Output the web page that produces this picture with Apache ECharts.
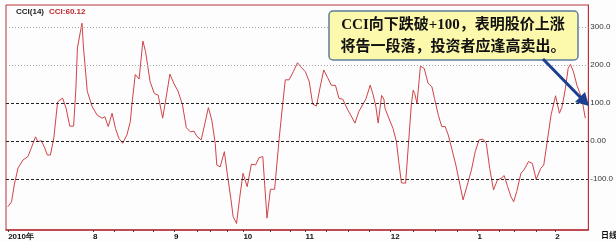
<!DOCTYPE html>
<html><head><meta charset="utf-8">
<script src="https://cdn.jsdelivr.net/npm/echarts@6/dist/echarts.min.js"></script>
<style>html,body{margin:0;padding:0;background:#fff}#c{width:616px;height:242px}</style>
</head><body><div id="c"></div>
<script>
// trading-day index (x) and CCI(14) value
const days = [0.2,1.2,1.9,2.9,4.2,5.5,6.4,7.5,8.1,9.0,9.9,10.6,11.4,12.3,13.3,14.6,15.5,16.5,17.5,18.1,18.5,19.7,20.1,21.1,22.4,23.7,24.2,25.0,25.7,26.6,27.6,28.5,29.4,30.4,31.5,32.4,32.8,33.7,34.7,35.7,36.4,37.6,38.7,39.7,40.9,41.9,42.8,43.9,44.9,46.1,47.1,48.2,49.1,49.9,51.0,51.9,52.9,53.8,54.7,55.1,56.0,57.1,57.9,58.8,59.4,60.3,61.1,62.0,63.1,64.2,65.3,66.2,67.2,67.7,68.3,69.2,70.3,71.5,72.4,73.1,74.1,75.2,76.3,77.4,78.4,79.4,80.3,81.3,82.2,83.2,84.2,85.2,86.3,87.2,88.2,89.5,90.4,91.4,92.4,93.4,94.3,95.4,96.2,96.9,97.5,98.4,99.0,99.3,100.3,101.4,102.3,102.9,103.6,104.7,105.5,106.2,106.7,107.1,107.7,108.6,109.6,110.6,111.6,112.3,113.3,114.2,115.1,115.9,116.8,117.9,119.0,119.8,120.9,122.0,123.0,124.0,125.0,125.9,126.8,127.8,128.8,129.8,130.6,131.5,132.4,133.1,133.9,135.0,135.8,137.0,138.0,139.0,140.2,141.0,141.9,142.9,144.1,145.1,145.8,146.7,147.4,148.0,148.8,149.7,150.4,151.0,151.9];
const cci = [-173,-160,-116,-71,-50,-41,-18,11,-2,1,-18,-37,-37,8,103,113,87,39,39,139,245,310,245,130,90,68,68,60,64,38,73,33,7,-6,16,51,95,175,163,263,235,156,125,121,60,121,176,150,132,95,35,24,26,12,3,42,88,55,-6,-63,-68,-28,-89,-151,-199,-217,-151,-85,-120,-61,-63,-44,-41,-116,-203,-127,-127,7,95,161,161,182,206,193,182,156,97,92,139,187,167,147,146,112,110,82,66,47,77,95,111,147,121,90,47,120,110,86,60,33,-2,-54,-110,-111,-2,95,134,125,99,197,191,152,143,112,68,38,38,16,-19,-63,-116,-155,-116,-76,-28,3,5,-6,-72,-129,-103,-98,-91,-120,-147,-160,-133,-85,-76,-54,-59,-101,-72,-63,-2,68,119,73,90,139,191,202,182,147,128,112,60.12];
const monthTicks = [0.3,22.6,43.9,62.1,78.4,100.8,123.6,144.0];
const monthLabels = ['2010年','8','9','10','11','12','1','2'];
const minorTicks = [28.1,33.2,38.4,50.1,53.5,57.9,69.1,74.3,83.9,89.6,95.1,106.8,112.5,118.2,129.4,133.2,138.9];
const yTicks = [300,200,100,0,-100];
const yLabels = ['300.0','200.0','100.0','0.00','-100.0'];
const strongLevels = [100,0,-100];
const weakLevels = [300,200];
const titleName = 'CCI(14)';
const titleValue = 'CCI:60.12';
const noteLines = ['CCI向下跌破+100，表明股价上涨','将告一段落，投资者应逢高卖出。'];

const chart = echarts.init(document.getElementById('c'), null, {renderer:'canvas'});
const labelMap = {}; monthTicks.forEach((t,i)=>labelMap[t]=monthLabels[i]);
const yMap = {}; yTicks.forEach((t,i)=>yMap[t]=yLabels[i]);
const red = '#b8323a';
chart.setOption({
  backgroundColor:'#fdfdfd',
  animation:false,
  grid:{left:6,right:21,top:5,bottom:12,show:true,borderColor:red,borderWidth:1,backgroundColor:'transparent'},
  xAxis:{type:'value',min:-0.26,max:152.7,
    axisLine:{show:true,onZero:false,lineStyle:{color:red,width:1.5}},
    axisTick:{show:true,inside:false,length:2,lineStyle:{color:'#444'},customValues:monthTicks.concat(minorTicks)},
    axisLabel:{show:true,customValues:monthTicks,formatter:v=>labelMap[v]||'',align:'left',margin:3,
      fontSize:8,fontWeight:'bold',color:'#111',fontFamily:'Liberation Sans, Arial'},
    splitLine:{show:false}},
  yAxis:{type:'value',position:'right',min:-234.2,max:357.9,
    axisLine:{show:true,onZero:false,lineStyle:{color:red}},
    axisTick:{show:false},
    axisLabel:{show:true,customValues:yTicks,formatter:v=>yMap[v]||'',align:'left',margin:2,
      fontSize:8,color:'#333',fontFamily:'Liberation Sans Narrow, Liberation Sans, Arial'},
    splitLine:{show:false}},
  series:[{type:'line',data:days.map((d,i)=>[d,cci[i]]),showSymbol:false,symbol:'none',
    lineStyle:{color:'#d04448',width:1},
    markLine:{silent:true,symbol:'none',label:{show:false},animation:false,
      data:strongLevels.map(v=>({yAxis:v,lineStyle:{color:'#222',type:[3,2],width:1}}))
        .concat(weakLevels.map(v=>({yAxis:v,lineStyle:{color:'#aaa',type:[1,2],width:1}})))}
  }],
  graphic:[
    {type:'text',left:16,top:8,style:{text:titleName,fontSize:8,fontWeight:'bold',fill:'#222',fontFamily:'Liberation Sans, Arial'}},
    {type:'text',left:49,top:8,style:{text:titleValue,fontSize:8,fontWeight:'bold',fill:'#c0282e',fontFamily:'Liberation Sans, Arial'}},
    {type:'rect',shape:{x:329,y:11,width:249,height:49,r:4},style:{fill:'#fcf9ad',stroke:'#5c7c9c',lineWidth:1.5},z:50},
    {type:'text',x:453,y:25,style:{text:noteLines[0],fontSize:15,fontWeight:'bold',fill:'#111',align:'center',verticalAlign:'middle',fontFamily:'Liberation Serif, Noto Sans CJK SC'},z:51},
    {type:'text',x:453,y:47,style:{text:noteLines[1],fontSize:15,fontWeight:'bold',fill:'#111',align:'center',verticalAlign:'middle',fontFamily:'Liberation Serif, Noto Sans CJK SC'},z:51},
    {type:'line',shape:{x1:543,y1:59,x2:581,y2:98},style:{stroke:'#1d3f91',lineWidth:3},z:52},
    {type:'polygon',shape:{points:[[589,106],[585,92],[575,102]]},style:{fill:'#1d3f91'},z:52},
    {type:'text',left:601,top:231,style:{text:'日线',fontSize:8,fontWeight:'bold',fill:'#111',fontFamily:'Noto Sans CJK SC'}}
  ]
});
</script></body></html>
